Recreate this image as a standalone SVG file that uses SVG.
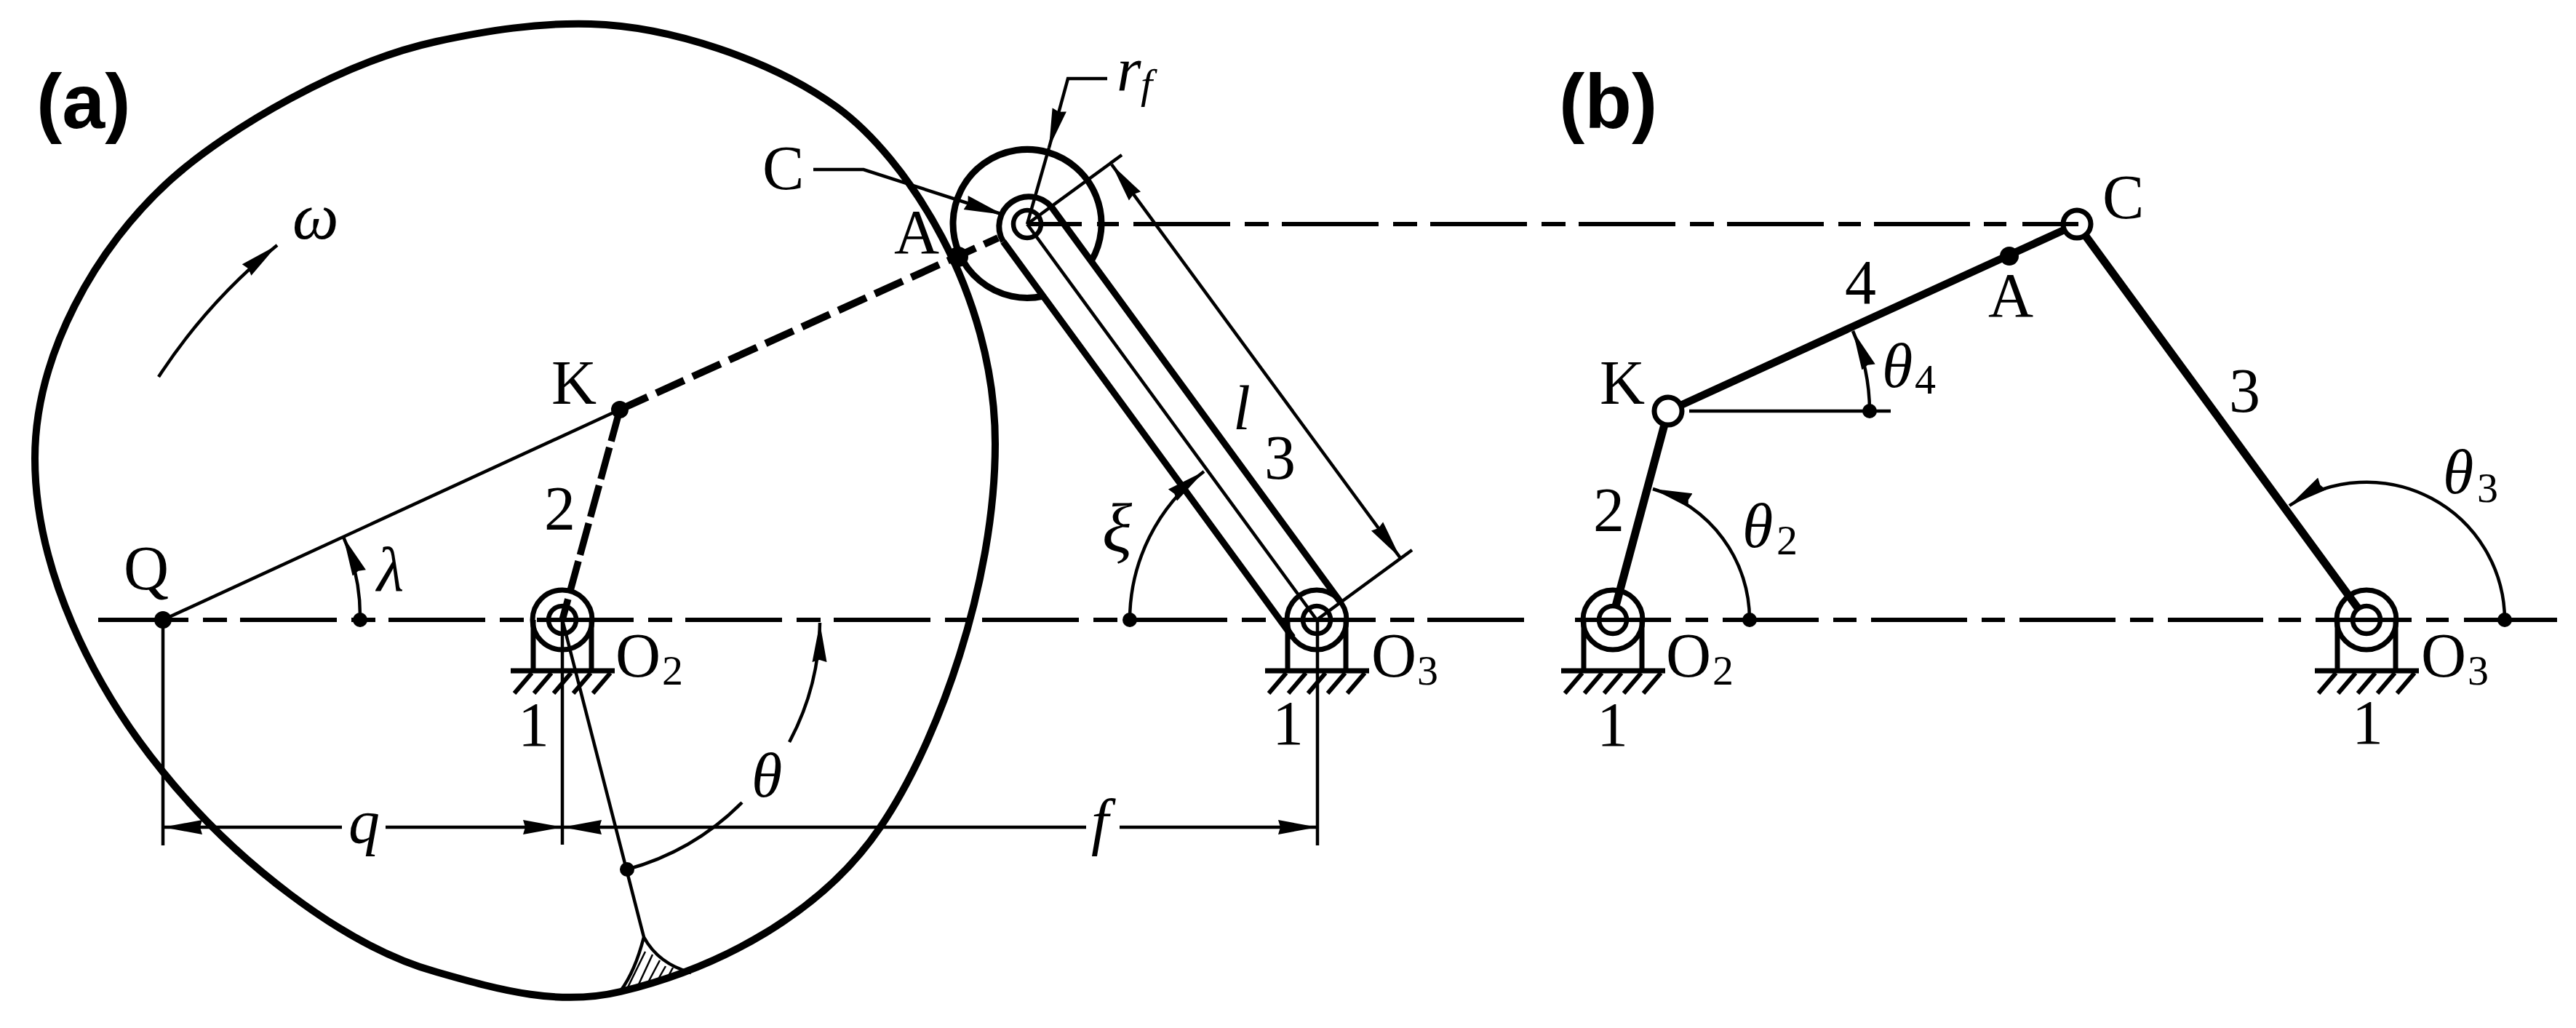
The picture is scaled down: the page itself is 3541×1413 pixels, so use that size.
<svg xmlns="http://www.w3.org/2000/svg" width="3541" height="1413" viewBox="0 0 3541 1413">
<style>
text{font-family:"Liberation Serif","Times New Roman",serif;font-size:86px;fill:#000}
.i{font-style:italic}
.s{font-size:58px}
.h{font-family:"Liberation Sans",Arial,sans-serif;font-weight:bold;font-size:106px}
.c{fill:none;stroke:#000;stroke-width:6}
.t{fill:none;stroke:#000;stroke-width:4.5}
.th{fill:none;stroke:#000;stroke-width:9}
.b{fill:none;stroke:#000;stroke-width:11}
.d{fill:#000}
.a{marker-end:url(#ah)}
.j{fill:#fff;stroke:#000;stroke-width:7}
</style>
<defs>
<marker id="ah" markerUnits="userSpaceOnUse" markerWidth="56" markerHeight="26" viewBox="0 -13 56 26" refX="54" refY="0" orient="auto-start-reverse"><path d="M0-10L54 0L0 10L3 0Z" fill="#000"/></marker>
<g id="pivot" fill="none" stroke="#000">
<circle r="41" stroke-width="7"/><circle r="19" stroke-width="6.5"/>
<path d="M-40 0V70M40 0V70" stroke-width="7"/>
<path d="M-71 70H72" stroke-width="7"/>
<path d="M-66 101L-42 73M-39 101L-15 73M-12 101L12 73M15 101L39 73M42 101L66 73" stroke-width="6"/>
</g>
</defs>
<rect width="3541" height="1413" fill="#fff"/>

<g id="cam">
<path class="th" style="stroke-width:10" d="M48 630C48 490 130 340 237 245C315 176 470 85 600 57C670 42 740 31 812 33C920 36 1060 82 1150 147C1245 216 1368 400 1368 610C1368 800 1290 1020 1210 1137C1130 1255 990 1330 853 1363C770 1383 690 1362 600 1336C470 1300 320 1180 224 1061C125 940 48 780 48 630Z"/>
<path class="t" d="M773 852L885 1288Q873 1335 853 1362M885 1288Q905 1325 950 1337"/>
<path d="M863 1357L887 1308M877 1355L897 1312M890 1352L907 1320M903 1349L915 1328M917 1345L925 1330M930 1340L935 1336" fill="none" stroke="#000" stroke-width="2.5"/>
</g>

<g id="connectors">
<path class="c" d="M135 852H259M279 852H312M330 852H463M483 852H516M534 852H667M687 852H720M738 852H871M891 852H924M942 852H1075M1095 852H1128M1146 852H1279M1299 852H1332M1350 852H1483M1503 852H1536M1554 852H1687M1707 852H1740M1758 852H1891M1911 852H1944M1962 852H2095"/>
<path class="c" d="M2165 852H2297M2317 852H2348M2368 852H2500M2520 852H2552M2572 852H2704M2724 852H2756M2776 852H2908M2928 852H2960M2980 852H3111M3132 852H3163M3183 852H3315M3335 852H3366M3387 852H3515"/>
<path class="c" d="M1412 308H1487M1508 308H1538M1558 308H1691M1711 308H1744M1762 308H1895M1915 308H1948M1966 308H2099M2119 308H2152M2170 308H2303M2323 308H2356M2374 308H2507M2527 308H2558M2576 308H2708M2727 308H2758"/>
<path class="t" d="M224 852L852 563"/>
<path class="b" style="stroke-width:10;stroke-dasharray:42 13" d="M852 563L1372 327"/>
<path class="b" style="stroke-width:9.5;stroke-dasharray:45 9" d="M852 563L773 852"/>
<path class="t" d="M1412 308L1810 852"/>
<path class="t" d="M1412 308L1542 213M1810 852L1941 756"/>
<path class="th" d="M1379 332L1777 876M1445 284L1843 828"/>
<path class="th" d="M1500 359A102 102 0 1 0 1434 407"/>
<path class="th" d="M1379 332A41 41 0 0 1 1445 284" style="stroke-width:8"/>
<path class="t a" style="marker-start:url(#ah)" d="M1528 226L1925 767"/>
<path class="t a" d="M1522 108H1468L1442 203"/>
<path class="t" d="M1442 203L1412 308"/>
<path class="t a" d="M1118 233H1187L1379 295"/>
<path class="t a" d="M218 518Q285 415 381 337"/>
<path class="t a" d="M495 852A271 271 0 0 0 472 738"/>
<path class="t a" d="M1553 852A257 257 0 0 1 1655 648"/>
<path class="t" d="M862 1195A354 354 0 0 0 1020 1103"/>
<path class="t a" d="M1085 1020A354 354 0 0 0 1127 856"/>
<path class="t" d="M224 852V1162M773 852V1161M1811 852V1162"/>
<path class="t a" d="M470 1137H224"/>
<path class="t a" d="M530 1137H773"/>
<path class="t a" d="M1493 1137H773"/>
<path class="t a" d="M1539 1137H1811"/>
<path class="b" d="M2221 833L2293 565"/>
<path class="b" style="stroke-width:10.5" d="M2293 565L2855 308"/>
<path class="b" d="M2855 308L3242 837"/>
<path class="t" d="M2322 565H2599"/>
<path class="t a" d="M2570 565A277 277 0 0 0 2547 455"/>
<path class="t a" d="M2405 852A188 188 0 0 0 2272 672"/>
<path class="t a" d="M3443 852A190 190 0 0 0 3147 695"/>
</g>

<g id="label-a"><text class="h" x="50" y="176">(a)</text></g>
<g id="label-b"><text class="h" x="2143" y="176">(b)</text></g>
<g id="omega"><text class="i" x="402" y="328" style="font-size:90px">ω</text></g>

<g id="Q"><circle class="d" cx="224" cy="852" r="12"/><text x="170" y="810">Q</text></g>
<g id="lambda"><circle class="d" cx="495" cy="852" r="10"/><text class="i" x="518" y="812">λ</text></g>
<g id="K-a"><circle class="d" cx="852" cy="563" r="12"/><text x="758" y="555">K</text></g>
<g id="link2-a"><text x="748" y="728">2</text></g>
<g id="O2-a"><use href="#pivot" x="773" y="852"/><text x="846" y="930">O</text><text class="s" x="910" y="941">2</text><text x="712" y="1025">1</text></g>
<g id="O3-a"><use href="#pivot" x="1810" y="852"/><text x="1885" y="930">O</text><text class="s" x="1948" y="941">3</text><text x="1749" y="1023">1</text></g>
<g id="A-a"><circle class="d" cx="1317" cy="353" r="14"/><text x="1229" y="348">A</text></g>
<g id="C-a"><circle class="t" style="stroke-width:6.5" cx="1412" cy="308" r="19"/><text x="1048" y="260">C</text></g>
<g id="rf"><text class="i" x="1535" y="125">r</text><text class="i s" x="1568" y="135">f</text></g>
<g id="l"><text class="i" x="1695" y="590">l</text></g>
<g id="link3-a"><text x="1738" y="658">3</text></g>
<g id="xi"><circle class="d" cx="1553" cy="852" r="10"/><text class="i" x="1515" y="758" style="font-size:96px">ξ</text></g>
<g id="theta"><circle class="d" cx="862" cy="1195" r="10"/><text class="i" x="1033" y="1095">θ</text></g>
<g id="q"><text class="i" x="479" y="1158">q</text></g>
<g id="f"><text class="i" x="1500" y="1158">f</text></g>

<g id="O2-b"><use href="#pivot" x="2217" y="852"/><text x="2290" y="930">O</text><text class="s" x="2354" y="941">2</text><text x="2195" y="1025">1</text></g>
<g id="O3-b"><use href="#pivot" x="3253" y="852"/><text x="3328" y="930">O</text><text class="s" x="3392" y="941">3</text><text x="3233" y="1022">1</text></g>
<g id="K-b"><circle class="j" cx="2293" cy="565" r="19"/><text x="2199" y="555">K</text></g>
<g id="C-b"><circle class="j" cx="2855" cy="308" r="19"/><path class="c" d="M2780 308H2857"/><text x="2890" y="300">C</text></g>
<g id="A-b"><circle class="d" cx="2762" cy="352" r="13"/><text x="2733" y="435">A</text></g>
<g id="link2-b"><text x="2190" y="730">2</text></g>
<g id="link4-b"><text x="2536" y="417">4</text></g>
<g id="link3-b"><text x="3064" y="566">3</text></g>
<g id="theta2"><circle class="d" cx="2405" cy="852" r="10"/><text class="i" x="2395" y="752">θ</text><text class="s" x="2442" y="762">2</text></g>
<g id="theta4"><circle class="d" cx="2570" cy="565" r="10"/><text class="i" x="2587" y="532">θ</text><text class="s" x="2632" y="541">4</text></g>
<g id="theta3"><circle class="d" cx="3443" cy="852" r="10"/><text class="i" x="3358" y="678">θ</text><text class="s" x="3405" y="690">3</text></g>
</svg>
